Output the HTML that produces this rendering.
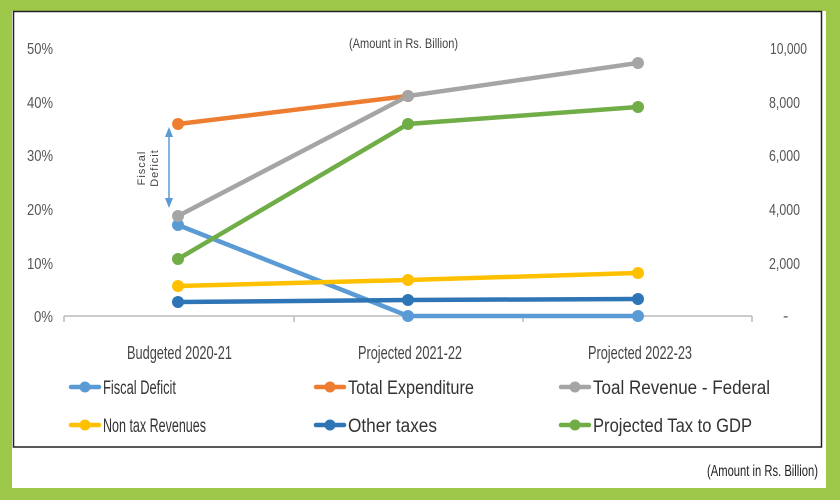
<!DOCTYPE html>
<html><head><meta charset="utf-8"><style>
html,body{margin:0;padding:0;background:#8dc63f;}
svg{display:block;}
text{font-family:"Liberation Sans",sans-serif;}
</style></head><body>
<svg width="840" height="500" viewBox="0 0 840 500" xmlns="http://www.w3.org/2000/svg">
<rect x="0" y="0" width="840" height="500" fill="#9dc84a"/>
<rect x="12" y="11" width="814" height="477" fill="#fff"/>
<rect x="13.5" y="11.5" width="808" height="435.5" fill="none" stroke="#222" stroke-width="1.5"/>
<g font-size="16" fill="#555" lengthAdjust="spacingAndGlyphs">
<text x="27" y="54" textLength="26" lengthAdjust="spacingAndGlyphs">50%</text>
<text x="27" y="108" textLength="26" lengthAdjust="spacingAndGlyphs">40%</text>
<text x="27" y="161" textLength="26" lengthAdjust="spacingAndGlyphs">30%</text>
<text x="27" y="215" textLength="26" lengthAdjust="spacingAndGlyphs">20%</text>
<text x="27" y="269" textLength="26" lengthAdjust="spacingAndGlyphs">10%</text>
<text x="34" y="322" textLength="19" lengthAdjust="spacingAndGlyphs">0%</text>
</g>
<g font-size="16" fill="#555">
<text x="770" y="54" textLength="37" lengthAdjust="spacingAndGlyphs">10,000</text>
<text x="769" y="108" textLength="31" lengthAdjust="spacingAndGlyphs">8,000</text>
<text x="769" y="161" textLength="31" lengthAdjust="spacingAndGlyphs">6,000</text>
<text x="769" y="215" textLength="31" lengthAdjust="spacingAndGlyphs">4,000</text>
<text x="769" y="269" textLength="31" lengthAdjust="spacingAndGlyphs">2,000</text>
<text x="783" y="321">-</text>
</g>
<text x="349" y="48" font-size="14" fill="#444" textLength="109" lengthAdjust="spacingAndGlyphs">(Amount in Rs. Billion)</text>
<line x1="64" y1="316" x2="752" y2="316" stroke="#bbb" stroke-width="1.5"/>
<g stroke="#bbb" stroke-width="1.5"><line x1="64" y1="316" x2="64" y2="322"/><line x1="294" y1="316" x2="294" y2="322"/><line x1="523" y1="316" x2="523" y2="322"/><line x1="752" y1="316" x2="752" y2="322"/></g>
<g font-size="18" fill="#444">
<text x="127" y="359" textLength="105" lengthAdjust="spacingAndGlyphs">Budgeted 2020-21</text>
<text x="358" y="359" textLength="104" lengthAdjust="spacingAndGlyphs">Projected 2021-22</text>
<text x="588" y="359" textLength="104" lengthAdjust="spacingAndGlyphs">Projected 2022-23</text>
</g>
<g stroke-width="4.5" fill="none" stroke-linecap="round">
<polyline points="178,225 408,316 638,316" stroke="#5b9bd5"/>
<polyline points="178,124 408,96" stroke="#ed7d31"/>
<polyline points="178,216 408,96 638,63" stroke="#a5a5a5"/>
<polyline points="178,286 408,280 638,273" stroke="#ffc000"/>
<polyline points="178,302 408,300 638,299" stroke="#2e75b6"/>
<polyline points="178,259 408,124 638,107" stroke="#70ad47"/>
</g>
<g>
<circle cx="178" cy="225" r="6" fill="#5b9bd5"/><circle cx="408" cy="316" r="6" fill="#5b9bd5"/><circle cx="638" cy="316" r="6" fill="#5b9bd5"/>
<circle cx="178" cy="124" r="6" fill="#ed7d31"/><circle cx="408" cy="96" r="6" fill="#ed7d31"/>
<circle cx="178" cy="216" r="6" fill="#a5a5a5"/><circle cx="408" cy="96" r="6" fill="#a5a5a5"/><circle cx="638" cy="63" r="6" fill="#a5a5a5"/>
<circle cx="178" cy="286" r="6" fill="#ffc000"/><circle cx="408" cy="280" r="6" fill="#ffc000"/><circle cx="638" cy="273" r="6" fill="#ffc000"/>
<circle cx="178" cy="302" r="6" fill="#2e75b6"/><circle cx="408" cy="300" r="6" fill="#2e75b6"/><circle cx="638" cy="299" r="6" fill="#2e75b6"/>
<circle cx="178" cy="259" r="6" fill="#70ad47"/><circle cx="408" cy="124" r="6" fill="#70ad47"/><circle cx="638" cy="107" r="6" fill="#70ad47"/>
</g>
<line x1="169" y1="133" x2="169" y2="202" stroke="#5b9bd5" stroke-width="1.5"/>
<polygon points="169,127 165,137 173,137" fill="#5b9bd5"/>
<polygon points="169,208 165,198 173,198" fill="#5b9bd5"/>
<g font-size="11" fill="#444" text-anchor="middle" letter-spacing="1">
<text transform="translate(145,168) rotate(-90)">Fiscal</text>
<text transform="translate(158,168) rotate(-90)">Deficit</text>
</g>
<g stroke-width="4.5" stroke-linecap="round">
<line x1="71" y1="387" x2="99" y2="387" stroke="#5b9bd5"/><circle cx="85" cy="387" r="5.5" fill="#5b9bd5"/>
<line x1="316" y1="387" x2="344" y2="387" stroke="#ed7d31"/><circle cx="330" cy="387" r="5.5" fill="#ed7d31"/>
<line x1="561" y1="387" x2="589" y2="387" stroke="#a5a5a5"/><circle cx="575" cy="387" r="5.5" fill="#a5a5a5"/>
<line x1="71" y1="425" x2="99" y2="425" stroke="#ffc000"/><circle cx="85" cy="425" r="5.5" fill="#ffc000"/>
<line x1="316" y1="425" x2="344" y2="425" stroke="#2e75b6"/><circle cx="330" cy="425" r="5.5" fill="#2e75b6"/>
<line x1="561" y1="425" x2="589" y2="425" stroke="#70ad47"/><circle cx="575" cy="425" r="5.5" fill="#70ad47"/>
</g>
<g font-size="19" fill="#333">
<text x="103" y="394" textLength="73" lengthAdjust="spacingAndGlyphs">Fiscal Deficit</text>
<text x="348" y="394" textLength="126" lengthAdjust="spacingAndGlyphs">Total Expenditure</text>
<text x="593" y="394" textLength="177" lengthAdjust="spacingAndGlyphs">Toal Revenue - Federal</text>
<text x="103" y="432" textLength="103" lengthAdjust="spacingAndGlyphs">Non tax Revenues</text>
<text x="348" y="432" textLength="89" lengthAdjust="spacingAndGlyphs">Other taxes</text>
<text x="593" y="432" textLength="159" lengthAdjust="spacingAndGlyphs">Projected Tax to GDP</text>
</g>
<text x="707" y="476" font-size="16" fill="#222" textLength="111" lengthAdjust="spacingAndGlyphs">(Amount in Rs. Billion)</text>
</svg>
</body></html>
